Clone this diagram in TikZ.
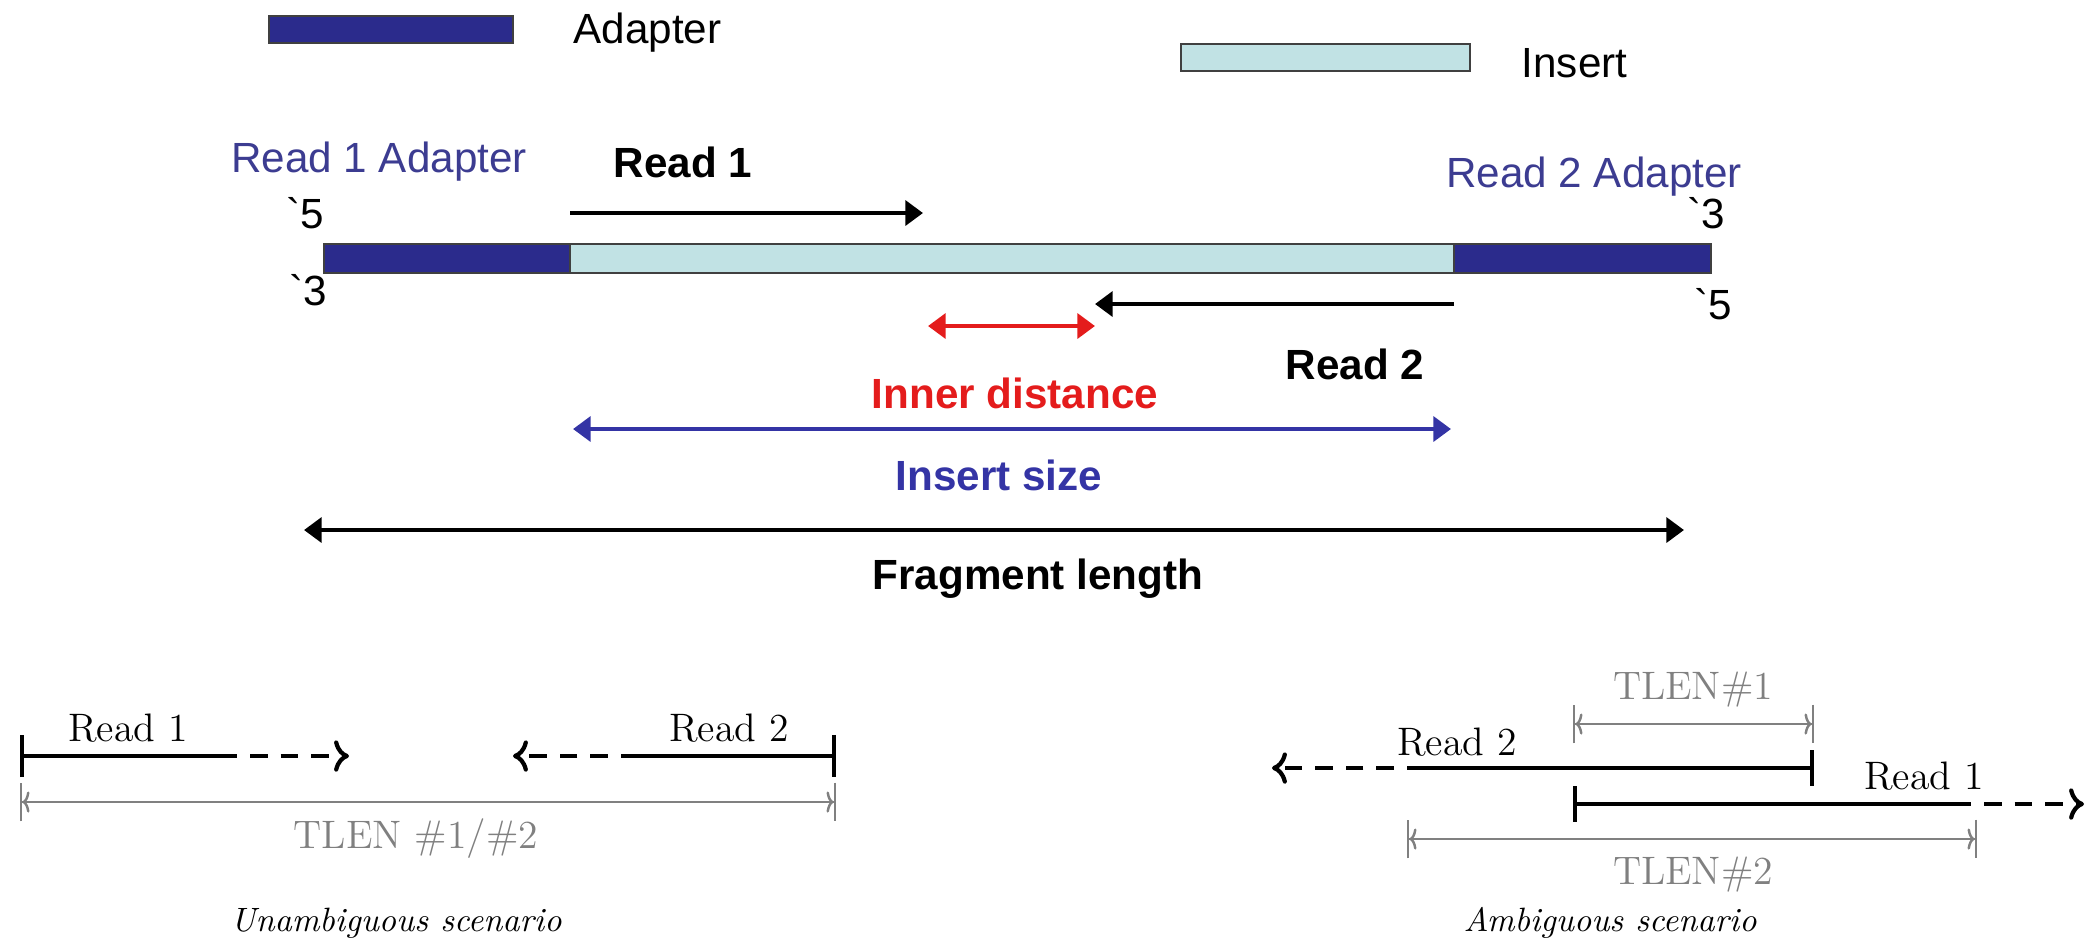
\documentclass[tikz,border=0pt]{standalone}
\usepackage{fontspec}
\newfontfamily\arialfont{Liberation Sans}
\usetikzlibrary{arrows.meta}
\definecolor{adapterblue}{RGB}{43,43,140}
\definecolor{insertcyan}{RGB}{193,226,228}
\definecolor{labelblue}{RGB}{60,60,145}
\definecolor{innerred}{RGB}{228,28,28}
\definecolor{sizeblue}{RGB}{52,52,165}
\tikzstyle{adapter}=[fill=adapterblue, draw=black!75, line width=0.8pt]
\tikzstyle{insert}=[fill=insertcyan, draw=black!75, line width=0.8pt]
\tikzstyle{toplabel}=[font=\arialfont\fontsize{12}{14}\selectfont, inner sep=0pt]
\tikzstyle{boldlabel}=[font=\arialfont\bfseries\fontsize{12}{14}\selectfont, inner sep=0pt]
\tikzstyle{readarrow}=[line width=1.3pt, -{Triangle[length=5pt,width=7pt]}]
\tikzstyle{spanarrow}=[line width=1.4pt, {Triangle[length=5pt,width=7pt]}-{Triangle[length=5pt,width=7pt]}]
\tikzstyle{cmlabel}=[font=\fontsize{11.3}{13}\selectfont, inner sep=0pt]
\tikzstyle{caption}=[font=\itshape\fontsize{9.6}{12}\selectfont, inner sep=0pt]
\tikzstyle{readline}=[line width=1.2pt]
\tikzstyle{readdash}=[line width=1.2pt, dash pattern=on 5pt off 3.7pt, dash phase=5pt]
\tikzstyle{tlen}=[gray, line width=0.7pt, {Bar[width=11pt]To[length=2pt,width=6pt]}-{To[length=2pt,width=6pt]Bar[width=11pt]}]

\begin{document}
\begin{tikzpicture}[x=0.01cm, y=-0.01cm]
    \useasboundingbox (0,0) rectangle (2088,947);
% Legend
    \draw[adapter] (269,16) rectangle (513,43);
    \node[toplabel, anchor=west] (adapterkey) at (573,33) {Adapter};
    \draw[insert] (1181,44) rectangle (1470,71);
    \node[toplabel, anchor=west] (insertkey) at (1521,63) {Insert};
% Fragment
    \draw[adapter] (324,244) rectangle (570,273);
    \draw[insert] (570,244) rectangle (1454,273);
    \draw[adapter] (1454,244) rectangle (1711,273);
    \node[toplabel, text=labelblue] (r1adapter) at (379,162) {Read 1 Adapter};
    \node[toplabel, text=labelblue] (r2adapter) at (1594,177) {Read 2 Adapter};
    \node[toplabel] (fivetop) at (305,213) {\textasciigrave 5};
    \node[toplabel] (threebot) at (308,290) {\textasciigrave 3};
    \node[toplabel] (threetop) at (1706,213) {\textasciigrave 3};
    \node[toplabel] (fivebot) at (1713,304) {\textasciigrave 5};
% Reads and distances
    \coordinate (r1start) at (570,213);
    \coordinate (r1end) at (923,213);
    \coordinate (r2start) at (1454,304);
    \coordinate (r2end) at (1095,304);
    \node[boldlabel] (read1) at (683,162) {Read 1};
    \node[boldlabel] (read2) at (1355,364) {Read 2};
    \draw[readarrow] (r1start) -- (r1end);
    \draw[readarrow] (r2start) -- (r2end);
    \coordinate (innerleft) at (928,326);
    \coordinate (innerright) at (1095,326);
    \draw[spanarrow, innerred] (innerleft) -- (innerright);
    \node[boldlabel, text=innerred] (innerlbl) at (1015,393) {Inner distance};
    \coordinate (sizeleft) at (573,429);
    \coordinate (sizeright) at (1451,429);
    \draw[spanarrow, sizeblue] (sizeleft) -- (sizeright);
    \node[boldlabel, text=sizeblue] (sizelbl) at (999,475) {Insert size};
    \coordinate (fragleft) at (304,530);
    \coordinate (fragright) at (1684,530);
    \draw[spanarrow] (fragleft) -- (fragright);
    \node[boldlabel] (fraglbl) at (1038,579) {Fragment length};
% Unambiguous scenario
    \coordinate (ua1) at (20,756);
    \coordinate (ua2) at (237,756);
    \coordinate (ua3) at (349,756);
    \coordinate (ub1) at (836,756);
    \coordinate (ub2) at (621,756);
    \coordinate (ub3) at (513,756);
    \draw[readline, {Bar[width=12pt]}-] (ua1) -- (ua2);
    \draw[readdash, ->] (ua2) -- (ua3);
    \draw[readline, {Bar[width=12pt]}-] (ub1) -- (ub2);
    \draw[readdash, ->] (ub2) -- (ub3);
    \node[cmlabel] (uread1) at (128,728) {Read 1};
    \node[cmlabel] (uread2) at (729,728) {Read 2};
    \coordinate (utl) at (20,802);
    \coordinate (utr) at (836,802);
    \draw[tlen] (utl) -- (utr);
    \node[cmlabel, text=gray] (utlen) at (416,839) {TLEN \#1/\#2};
    \node[caption] (ucap) at (396,923) {Unambiguous scenario};
% Ambiguous scenario
    \coordinate (aa1) at (1814,768);
    \coordinate (aa2) at (1407,768);
    \coordinate (aa3) at (1272,768);
    \coordinate (ab1) at (1573,804);
    \coordinate (ab2) at (1971,804);
    \coordinate (ab3) at (2084,804);
    \draw[readline, {Bar[width=10pt]}-] (aa1) -- (aa2);
    \draw[readdash, ->] (aa2) -- (aa3);
    \draw[readline, {Bar[width=10pt]}-] (ab1) -- (ab2);
    \draw[readdash, ->] (ab2) -- (ab3);
    \node[cmlabel] (aread2) at (1457,742) {Read 2};
    \node[cmlabel] (aread1) at (1924,776) {Read 1};
    \coordinate (at1l) at (1573,724);
    \coordinate (at1r) at (1814,724);
    \draw[tlen] (at1l) -- (at1r);
    \node[cmlabel, text=gray] (atlen1) at (1693,690) {TLEN\#1};
    \coordinate (at2l) at (1407,839);
    \coordinate (at2r) at (1977,839);
    \draw[tlen] (at2l) -- (at2r);
    \node[cmlabel, text=gray] (atlen2) at (1693,875) {TLEN\#2};
    \node[caption] (acap) at (1610,923) {Ambiguous scenario};
\end{tikzpicture}
\end{document}
